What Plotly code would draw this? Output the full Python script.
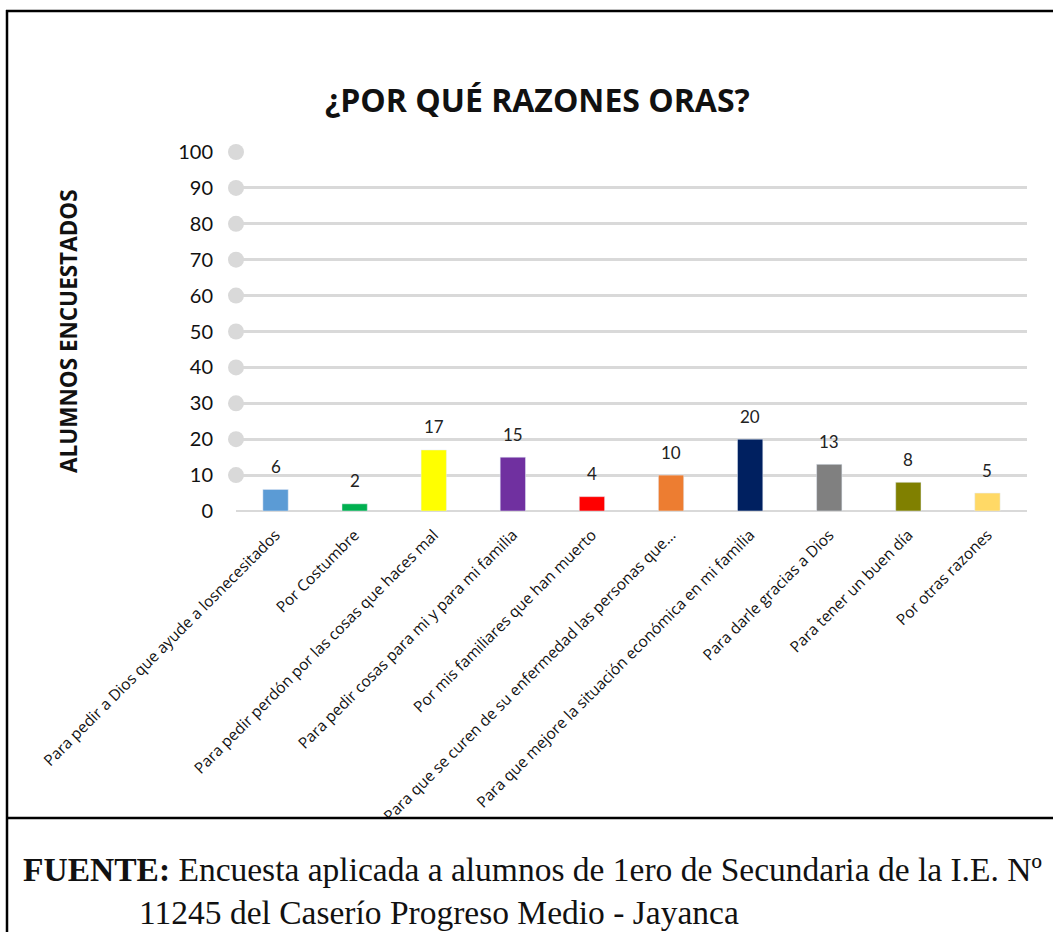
import plotly.graph_objects as go

categories = [
    "Para pedir a Dios que ayude a losnecesitados",
    "Por Costumbre",
    "Para pedir perdón por las cosas que haces mal",
    "Para pedir cosas para mi y para mi familia",
    "Por mis familiares que han muerto",
    "Para que se curen de su enfermedad las personas que…",
    "Para que mejore la situación económica en mi familia",
    "Para darle gracias a Dios",
    "Para tener un buen día",
    "Por otras razones",
]
values = [6, 2, 17, 15, 4, 10, 20, 13, 8, 5]
bar_colors = ["#5b9bd5", "#00b050", "#ffff00", "#7030a0", "#ff0000",
              "#ed7d31", "#002060", "#808080", "#808000", "#ffd966"]
y_ticks = [0, 10, 20, 30, 40, 50, 60, 70, 80, 90, 100]
dot_ticks = [10, 20, 30, 40, 50, 60, 70, 80, 90, 100]

title_text = "¿POR QUÉ RAZONES ORAS?"
y_title = "ALUMNOS ENCUESTADOS"
source_bold = "FUENTE:"
source_line1 = " Encuesta aplicada a alumnos de 1ero de Secundaria de la I.E. Nº"
source_line2 = "11245 del Caserío Progreso Medio - Jayanca"

W, H = 1053, 932
L, R, T, B = 236, 26, 152, 421
pw, ph = W - L - R, H - T - B


def px(x):
    return (x - L) / pw


def py(y_top):
    return (H - y_top - B) / ph


fig = go.Figure()
fig.add_trace(go.Bar(
    x=categories, y=values, marker_color=bar_colors, width=0.32,
    showlegend=False, hoverinfo="x+y",
))
fig.add_trace(go.Scatter(
    x=[0] * len(dot_ticks), y=dot_ticks, xaxis="x2", mode="markers",
    marker=dict(color="#d9d9d9", size=16), cliponaxis=False,
    showlegend=False, hoverinfo="skip",
))

annotations = []
for c, v in zip(categories, values):
    annotations.append(dict(
        x=c, y=v, xref="x", yref="y", text=str(v), showarrow=False,
        yanchor="middle", xanchor="center", yshift=23,
        font=dict(family="Lato", size=17, color="#222"),
    ))

annotations += [
    dict(text=f"<b>{title_text}</b>", x=px(537), y=py(100), xref="paper", yref="paper",
         showarrow=False, font=dict(family="Open Sans", size=32, color="#111"),
         xanchor="center", yanchor="middle"),
    dict(text=f"<b>{y_title}</b>", x=px(68), y=py(331), xref="paper", yref="paper",
         textangle=-90, showarrow=False,
         font=dict(family="Open Sans", size=22.5, color="#111"),
         xanchor="center", yanchor="middle"),
    dict(text=f"<b>{source_bold}</b>{source_line1}", x=px(21), y=py(869),
         xref="paper", yref="paper", showarrow=False,
         font=dict(family="Liberation Serif", size=33.5, color="#111"),
         xanchor="left", yanchor="middle"),
    dict(text=source_line2, x=px(137), y=py(912), xref="paper", yref="paper",
         showarrow=False,
         font=dict(family="Liberation Serif", size=33.5, color="#111"),
         xanchor="left", yanchor="middle"),
]

shapes = [
    dict(type="rect", xref="paper", yref="paper", layer="above",
         x0=px(9), x1=px(W), y0=py(819), y1=py(846),
         fillcolor="white", line=dict(width=0)),
    dict(type="line", xref="paper", yref="paper", x0=px(6), x1=px(W), y0=py(11), y1=py(11),
         line=dict(color="black", width=2.5)),
    dict(type="line", xref="paper", yref="paper", x0=px(7), x1=px(7), y0=py(10), y1=py(H),
         line=dict(color="black", width=2.5)),
    dict(type="line", xref="paper", yref="paper", x0=px(7), x1=px(W), y0=py(818), y1=py(818),
         line=dict(color="black", width=2.5)),
]

fig.update_layout(
    width=W, height=H,
    margin=dict(l=L, r=R, t=T, b=B, autoexpand=False),
    paper_bgcolor="white", plot_bgcolor="white",
    font=dict(family="Lato", color="#111"),
    xaxis=dict(
        tickangle=-45, tickfont=dict(family="Open Sans", size=15.5, color="#111"),
        showgrid=False, showline=False, zeroline=False, ticks="",
        ticklabelstandoff=11, automargin=False,
    ),
    xaxis2=dict(overlaying="x", range=[0, 1], visible=False),
    yaxis=dict(
        range=[0, 100], tickvals=y_ticks, showgrid=True, gridcolor="#d9d9d9",
        gridwidth=3, zeroline=True, zerolinecolor="#d9d9d9", zerolinewidth=2,
        showline=False, ticks="", tickfont=dict(family="Lato", size=20, color="#111"),
        ticklabelstandoff=22, automargin=False,
    ),
    annotations=annotations,
    shapes=shapes,
)

fig.write_html("out.html", config={"displayModeBar": False},
               post_script="document.body.style.margin='0px';")
